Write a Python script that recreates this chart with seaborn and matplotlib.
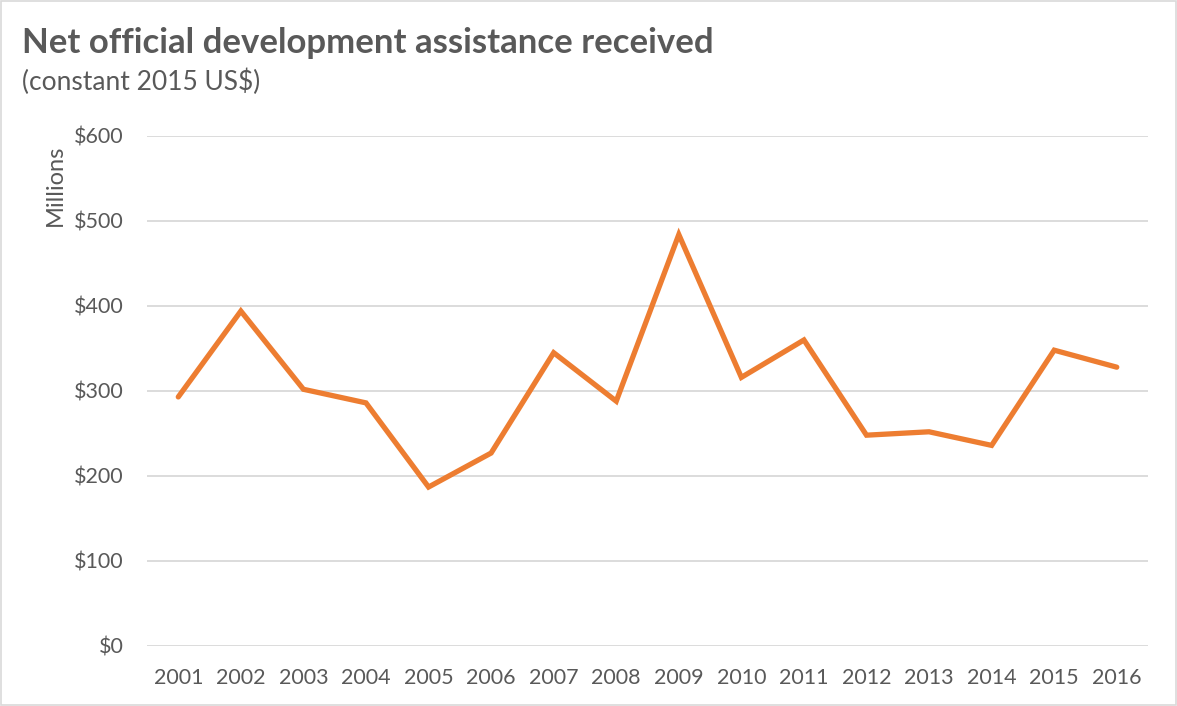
import matplotlib
matplotlib.use("Agg")
import matplotlib.pyplot as plt
import seaborn as sns
import pandas as pd

# data
years = [2001, 2002, 2003, 2004, 2005, 2006, 2007, 2008,
         2009, 2010, 2011, 2012, 2013, 2014, 2015, 2016]
oda_millions = [293, 394, 302, 286, 187, 227, 345, 288,
                484, 316, 360, 248, 252, 236, 348, 328]
y_ticks = [0, 100, 200, 300, 400, 500, 600]

df = pd.DataFrame({"year": years, "oda": oda_millions})

sns.set_style("white")
plt.rcParams["font.family"] = ["Lato", "DejaVu Sans"]

text_col = "#595959"
fig = plt.figure(figsize=(11.77, 7.06), dpi=100)
ax = fig.add_axes([0.1249, 0.085, 0.8505, 0.7224])

sns.lineplot(data=df, x="year", y="oda", ax=ax, color="#ED7D31",
             linewidth=3.8, solid_capstyle="round", solid_joinstyle="miter")

ax.set_xlim(2000.5, 2016.5)
ax.set_ylim(0, 600)
ax.set_yticks(y_ticks)
ax.set_yticklabels([f"${v}" for v in y_ticks])
ax.set_xticks(years)
ax.set_xticklabels([str(y) for y in years])
ax.yaxis.grid(True, color="#D9D9D9", linewidth=1.3)
ax.set_axisbelow(True)
for s in ax.spines.values():
    s.set_visible(False)
ax.tick_params(axis="both", length=0, labelsize=15.5, labelcolor=text_col)
ax.tick_params(axis="y", pad=17)
ax.tick_params(axis="x", pad=16)
ax.set_xlabel("")
ax.set_ylabel("")

fig.text(0.0187, 0.925, "Net official development assistance received",
         fontsize=25, fontweight="bold", color=text_col, ha="left", va="baseline")
fig.text(0.0187, 0.872, "(constant 2015 US$)", fontsize=19,
         color=text_col, ha="left", va="baseline")
fig.text(0.047, 0.738, "Millions", rotation=90, fontsize=17,
         color=text_col, ha="center", va="center")

# light frame around the chart
fig.patches.append(plt.Rectangle((0.001, 0.001), 0.998, 0.997, transform=fig.transFigure,
                                 fill=False, edgecolor="#D9D9D9", linewidth=1.2))

fig.savefig("out.png", dpi=100, facecolor="white")
